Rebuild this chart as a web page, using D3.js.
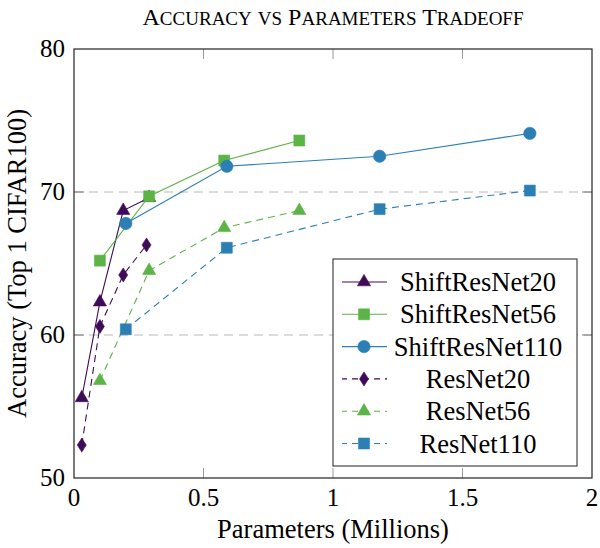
<!DOCTYPE html>
<html>
<head>
<meta charset="utf-8">
<script src="https://cdn.jsdelivr.net/npm/d3@7/dist/d3.min.js"></script>
<style>
  body { margin: 0; background: #fff; }
</style>
</head>
<body>
<div id="chart"></div>
<script>
// values
var shiftResNet20X  = [0.03, 0.10, 0.19, 0.29]
  , shiftResNet20Y  = [55.6, 62.3, 68.7, 69.6]
  , shiftResNet56X  = [0.10, 0.29, 0.58, 0.87]
  , shiftResNet56Y  = [65.2, 69.7, 72.2, 73.6]
  , shiftResNet110X = [0.20, 0.59, 1.18, 1.76]
  , shiftResNet110Y = [67.8, 71.8, 72.5, 74.1]
  , resNet20X       = [0.03, 0.10, 0.19, 0.28]
  , resNet20Y       = [52.3, 60.6, 64.2, 66.3]
  , resNet56X       = [0.10, 0.29, 0.58, 0.87]
  , resNet56Y       = [56.8, 64.5, 67.5, 68.7]
  , resNet110X      = [0.20, 0.59, 1.18, 1.76]
  , resNet110Y      = [60.4, 66.1, 68.8, 70.1]

var seriesNames = ["ShiftResNet20", "ShiftResNet56", "ShiftResNet110", "ResNet20", "ResNet56", "ResNet110"]
var xTicks = [0, 0.5, 1, 1.5, 2]
  , yTicks = [50, 60, 70, 80]

var purple = "#3f0a57", green = "#5cb346", blue = "#2b7fb5"

var series = [
    {name: seriesNames[0], x: shiftResNet20X,  y: shiftResNet20Y,  color: purple, mark: d3.symbolTriangle, size: 75,  dash: null},
    {name: seriesNames[1], x: shiftResNet56X,  y: shiftResNet56Y,  color: green,  mark: d3.symbolSquare,   size: 120, dash: null},
    {name: seriesNames[2], x: shiftResNet110X, y: shiftResNet110Y, color: blue,   mark: d3.symbolCircle,   size: 120, dash: null},
    {name: seriesNames[3], x: resNet20X,       y: resNet20Y,       color: purple, mark: "diamond",         size: 0,   dash: "7,5"},
    {name: seriesNames[4], x: resNet56X,       y: resNet56Y,       color: green,  mark: d3.symbolTriangle, size: 75,  dash: "7,5"},
    {name: seriesNames[5], x: resNet110X,      y: resNet110Y,      color: blue,   mark: d3.symbolSquare,   size: 120, dash: "7,5"}
]

var width = 600, height = 548
  , pL = 74, pR = 592, pT = 49, pB = 478
  , serif = "'Liberation Serif', Tinos, 'Times New Roman', 'DejaVu Serif', serif"

var svg = d3.select("#chart").append("svg").attr("width", width).attr("height", height)
    .attr("font-family", serif)

var x = d3.scaleLinear().domain([0, 2]).range([pL, pR])
  , y = d3.scaleLinear().domain([50, 80]).range([pB, pT])

// grid lines
svg.append("g").selectAll("line").data([60, 70]).join("line")
    .attr("x1", pL).attr("x2", pR)
    .attr("y1", d => y(d)).attr("y2", d => y(d))
    .attr("stroke", "#b8b8b8").attr("stroke-width", 1).attr("stroke-dasharray", "9,6")

// inward ticks on all four sides
var tickLen = 10, tickCol = "#999"
var inner = xTicks.slice(1, -1), innerY = yTicks.slice(1, -1)
svg.append("g").selectAll("line").data(inner).join("line")
    .attr("x1", d => x(d)).attr("x2", d => x(d)).attr("y1", pB).attr("y2", pB - tickLen)
    .attr("stroke", tickCol)
svg.append("g").selectAll("line").data(inner).join("line")
    .attr("x1", d => x(d)).attr("x2", d => x(d)).attr("y1", pT).attr("y2", pT + tickLen)
    .attr("stroke", tickCol)
svg.append("g").selectAll("line").data(innerY).join("line")
    .attr("x1", pR).attr("x2", pR - tickLen).attr("y1", d => y(d)).attr("y2", d => y(d))
    .attr("stroke", "#777")
svg.append("g").selectAll("line").data(innerY).join("line")
    .attr("x1", pL).attr("x2", pL + tickLen).attr("y1", d => y(d)).attr("y2", d => y(d))
    .attr("stroke", "#777")

// tick labels
svg.append("g").selectAll("text").data(xTicks).join("text")
    .attr("x", d => x(d)).attr("y", pB + 28)
    .attr("text-anchor", "middle").attr("font-size", 25)
    .text(d => d)
svg.append("g").selectAll("text").data(yTicks).join("text")
    .attr("x", pL - 9).attr("y", d => y(d) + 8)
    .attr("text-anchor", "end").attr("font-size", 25)
    .text(d => d)

// series
var line = d3.line()
function markPath(s) {
    if (s.mark === "diamond")
        return "M0,-7L4.5,0L0,7L-4.5,0Z"
    return d3.symbol().type(s.mark).size(s.size)()
}

series.forEach(function (s) {
    var pts = s.x.map((v, i) => [x(v), y(s.y[i])])
    svg.append("path").attr("d", line(pts))
        .attr("fill", "none").attr("stroke", s.color).attr("stroke-width", 1.1)
        .attr("stroke-dasharray", s.dash)
    svg.append("g").selectAll("path").data(pts).join("path")
        .attr("transform", d => "translate(" + d[0] + "," + d[1] + ")")
        .attr("d", markPath(s))
        .attr("fill", s.color).attr("stroke", s.color).attr("stroke-width", 0.6)
})

// frame
svg.append("rect").attr("x", pL).attr("y", pT)
    .attr("width", pR - pL).attr("height", pB - pT)
    .attr("fill", "none").attr("stroke", "#222").attr("stroke-width", 1.2)

// legend
var lg = svg.append("g")
lg.append("rect").attr("x", 333).attr("y", 259).attr("width", 244).attr("height", 207)
    .attr("fill", "#fff").attr("stroke", "#333").attr("stroke-width", 1.1)
series.forEach(function (s, i) {
    var ry = 282 + i * 32.3
    lg.append("line").attr("x1", 342).attr("x2", 387).attr("y1", ry).attr("y2", ry)
        .attr("stroke", s.color).attr("stroke-width", 1.1).attr("stroke-dasharray", s.dash ? "6,5" : null)
        .attr("stroke-dashoffset", s.dash ? 1 : 0)
    lg.append("path").attr("transform", "translate(364," + ry + ")")
        .attr("d", markPath(s)).attr("fill", s.color).attr("stroke", s.color).attr("stroke-width", 0.6)
    lg.append("text").attr("x", 478).attr("y", ry + 9)
        .attr("text-anchor", "middle").attr("font-size", 26.5)
        .text(s.name)
})

// title in small caps built from two sizes
var title = "Accuracy vs Parameters Tradeoff"
var tt = svg.append("text").attr("x", (pL + pR) / 2).attr("y", 25)
    .attr("text-anchor", "middle")
title.split("").forEach(function (c) {
    var big = c !== c.toLowerCase() || c === " "
    tt.append("tspan").attr("font-size", big ? 24 : 19).text(c.toUpperCase())
})

svg.append("text").attr("x", (pL + pR) / 2).attr("y", 538)
    .attr("text-anchor", "middle").attr("font-size", 26.5)
    .text("Parameters (Millions)")
svg.append("text").attr("transform", "translate(26," + ((pT + pB) / 2) + ") rotate(-90)")
    .attr("text-anchor", "middle").attr("font-size", 26.5)
    .text("Accuracy (Top 1 CIFAR100)")
</script>
</body>
</html>
